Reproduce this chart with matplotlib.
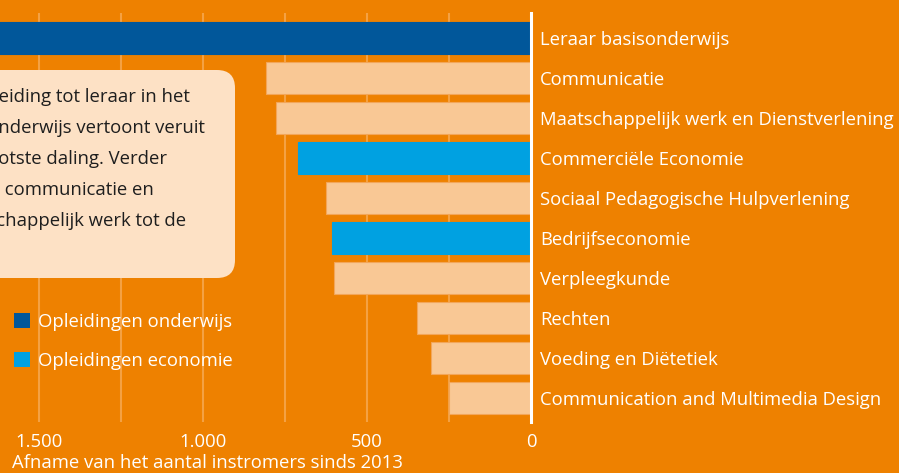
import matplotlib
matplotlib.use("Agg")
import matplotlib.pyplot as plt
from matplotlib.patches import FancyBboxPatch, Patch
from matplotlib.transforms import IdentityTransform

plt.rcParams['font.family'] = ['Open Sans', 'DejaVu Sans']

# data
opleidingen = ['Leraar basisonderwijs', 'Communicatie', 'Maatschappelijk werk en Dienstverlening',
               'Commerciële Economie', 'Sociaal Pedagogische Hulpverlening', 'Bedrijfseconomie',
               'Verpleegkunde', 'Rechten', 'Voeding en Diëtetiek', 'Communication and Multimedia Design']
afname = [1750, 808, 778, 710, 624, 608, 600, 347, 306, 250]
groep = ['onderwijs', 'overig', 'overig', 'economie', 'overig', 'economie',
         'overig', 'overig', 'overig', 'overig']
ticks = [1500, 1000, 500, 0]
tick_labels = ['1.500', '1.000', '500', '0']
grid_x = [250, 500, 750, 1000, 1250, 1500]
toelichting = ['De opleiding tot leraar in het',
               'basisonderwijs vertoont veruit',
               'de grootste daling. Verder',
               'volgen communicatie en',
               'maatschappelijk werk tot de']

oranje = '#EE8100'
kleuren = {'onderwijs': '#01579A', 'economie': '#00A1E1', 'overig': '#F9C895'}
fs = 13.3

W, H = 899, 473
fig = plt.figure(figsize=(W / 100, H / 100), dpi=100, facecolor=oranje)
ax = fig.add_axes([0, (H - 422) / H, 531 / W, 409 / H])
ax.set_facecolor(oranje)

for gx in grid_x:
    ax.axvline(gx, color='#F4A143', lw=1.5, zorder=0)

y = list(range(len(opleidingen)))
ax.barh(y, afname, height=0.8, color=[kleuren[g] for g in groep],
        edgecolor=[kleuren[g] if g != 'overig' else '#F3A65A' for g in groep],
        linewidth=0.8, zorder=2)
ax.axvline(0, color='white', lw=2.2, zorder=3, clip_on=False)

ax.set_xlim(1619, 0)
ax.set_ylim(9.6, -0.625)
for s in ax.spines.values():
    s.set_visible(False)

ax.set_xticks(ticks, tick_labels)
ax.tick_params(axis='x', length=0, pad=8, labelsize=fs, labelcolor='white')
ax.yaxis.tick_right()
ax.set_yticks(y, opleidingen)
ax.tick_params(axis='y', length=0, pad=6.5, labelsize=fs, labelcolor='white')
for lbl in ax.get_yticklabels():
    lbl.set_horizontalalignment('left')

fig.text(12 / W, (H - 463) / H, 'Afname van het aantal instromers sinds 2013',
         color='white', fontsize=fs, va='center', ha='left')

# toelichting (links buiten beeld afgesneden, zoals in het origineel)
box = FancyBboxPatch((-60, H - 278), 295, 208, boxstyle='round,pad=0,rounding_size=18',
                     transform=IdentityTransform(), facecolor='#FDE1C5', edgecolor='none',
                     zorder=5)
fig.patches.append(box)
for i, regel in enumerate(toelichting):
    fig.text(-57 / W, (H - 97 - 31 * i) / H, regel, fontsize=fs, color='#1E1E1E',
             va='center', ha='left', zorder=6)

handles = [Patch(facecolor=kleuren['onderwijs'], label='Opleidingen onderwijs'),
           Patch(facecolor=kleuren['economie'], label='Opleidingen economie')]
fig.legend(handles=handles, loc='upper left', bbox_to_anchor=(-1 / W, (H - 298) / H),
           frameon=False, fontsize=fs, labelcolor='white', handlelength=0.9,
           handleheight=0.9, handletextpad=0.4, labelspacing=1.15, borderpad=0.3)

fig.savefig('out.png', dpi=100, facecolor=oranje)
